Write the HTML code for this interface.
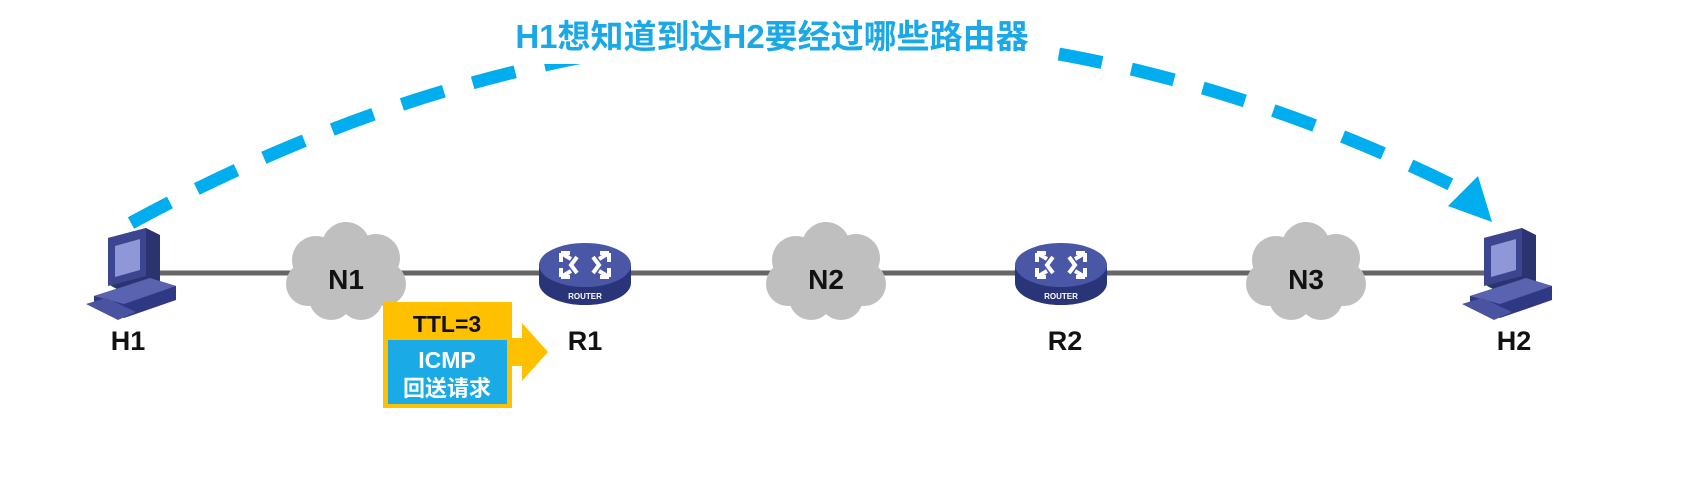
<!DOCTYPE html>
<html><head><meta charset="utf-8"><style>
html,body{margin:0;padding:0;background:#fff;}
body{width:1699px;height:477px;overflow:hidden;}
text{font-family:"Liberation Sans","Noto Sans CJK SC",sans-serif;font-weight:bold;}
</style></head><body>
<svg width="1699" height="477" viewBox="0 0 1699 477" xmlns="http://www.w3.org/2000/svg">
<defs>
<g id="cloud">
<circle cx="-30" cy="-12" r="24"/><circle cx="0" cy="-26" r="24"/><circle cx="30" cy="-14" r="24"/>
<circle cx="-38" cy="12" r="22"/><circle cx="38" cy="12" r="22"/><circle cx="-15" cy="26" r="22"/><circle cx="15" cy="26" r="22"/><circle cx="0" cy="0" r="34"/>
</g>
<g id="router">
<path d="M-46,0 v18 a46,22 0 0 0 92,0 v-18 z" fill="#2a3479"/>
<ellipse cx="0" cy="0" rx="46" ry="22" fill="#4a56a6"/>
<g stroke="#fff" stroke-width="4" fill="none">
<path d="M-24,-12 l10,6 M-24,-12 l0,9 M-24,-12 l9,0"/>
<path d="M24,-12 l-10,6 M24,-12 l0,9 M24,-12 l-9,0"/>
<path d="M-24,12 l10,-6 M-24,12 l0,-9 M-24,12 l9,0"/>
<path d="M24,12 l-10,-6 M24,12 l0,-9 M24,12 l-9,0"/>
<path d="M-8,-8 l-6,8 l6,8 M8,-8 l6,8 l-6,8"/>
</g>
<text x="0" y="34" font-size="8" fill="#fff" text-anchor="middle">ROUTER</text>
</g>
<g id="pc">
<polygon points="-22,-42 16,-52 30,-45 30,2 -8,12 -22,4" fill="#2c3470"/>
<polygon points="-22,-42 16,-52 16,-4 -22,6" fill="#3b4590"/>
<polygon points="-15,-34 10,-41 10,-10 -15,-3" fill="#8f97d6"/>
<polygon points="-36,16 20,-2 46,6 46,20 -6,38 -36,28" fill="#2f3882"/>
<polygon points="-36,16 20,-2 46,6 -6,24" fill="#5a63b0"/>
<polygon points="-44,24 -24,18 6,32 -12,40" fill="#4a53a0"/>
</g>
</defs>

<line x1="130" y1="273" x2="1510" y2="273" stroke="#666" stroke-width="5"/>

<g fill="#bfbfbf">
<use href="#cloud" x="346" y="272"/>
<use href="#cloud" x="826" y="272"/>
<use href="#cloud" x="1306" y="272"/>
</g>
<text x="346" y="289" font-size="28" text-anchor="middle" fill="#111">N1</text>
<text x="826" y="289" font-size="28" text-anchor="middle" fill="#111">N2</text>
<text x="1306" y="289" font-size="28" text-anchor="middle" fill="#111">N3</text>

<use href="#router" x="585" y="265"/>
<use href="#router" x="1061" y="265"/>
<use href="#pc" x="130" y="280"/>
<use href="#pc" x="1506" y="280"/>

<text x="128" y="350" font-size="27" text-anchor="middle" fill="#111">H1</text>
<text x="585" y="350" font-size="27" text-anchor="middle" fill="#111">R1</text>
<text x="1065" y="350" font-size="27" text-anchor="middle" fill="#111">R2</text>
<text x="1514" y="350" font-size="27" text-anchor="middle" fill="#111">H2</text>

<!-- packet -->
<polygon points="510,338 522,338 522,323 548,352 522,381 522,366 510,366" fill="#ffc000"/>
<rect x="383" y="302" width="129" height="106" fill="#ffc000"/>
<rect x="388" y="340" width="119" height="64" fill="#1aabe6"/>
<text x="447" y="332" font-size="23" text-anchor="middle" fill="#111">TTL=3</text>
<text x="447" y="368" font-size="23" text-anchor="middle" fill="#fff">ICMP</text>
<text x="447" y="396" font-size="22" text-anchor="middle" fill="#fff">回送请求</text>

<!-- arc -->
<path d="M131,223 Q800,-140 1466,192" fill="none" stroke="#00aeef" stroke-width="13" stroke-dasharray="44,30"/>
<polygon points="1492,222 1448,206 1478,176" fill="#00aeef"/>
<rect x="488" y="8" width="548" height="56" fill="#fff"/>
<text x="772" y="48" font-size="33" text-anchor="middle" fill="#1aa9e6">H1想知道到达H2要经过哪些路由器</text>
</svg>
</body></html>
